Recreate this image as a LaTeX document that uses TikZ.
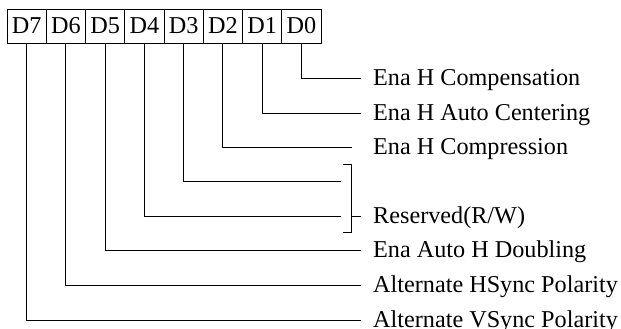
\documentclass[tikz,border=0pt]{standalone}
\usepackage{fontspec}
\setmainfont{Liberation Serif}
\usetikzlibrary{positioning}

\begin{document}
\begin{tikzpicture}[x=1pt, y=-1pt,
    bit/.style={rectangle, draw=black, line width=0.9pt, minimum width=39.25pt, minimum height=34pt, inner sep=0pt, font=\fontsize{24.2}{29}\selectfont},
    lbl/.style={anchor=west, inner sep=0pt, yshift=-1.8pt, font=\fontsize{24.2}{29}\selectfont},
    wire/.style={line width=0.9pt}
]
\useasboundingbox (0,0) rectangle (621,329);

% register bits
\foreach \i [count=\k from 0] in {7,6,5,4,3,2,1,0}
    \node[bit] (b\i) at (26.6+39.25*\k, 26) {D\i};

% wire ends
\coordinate (t0) at (361,78);
\coordinate (t1) at (361,113);
\coordinate (t2) at (352,147);
\coordinate (t3) at (341,181);
\coordinate (t4) at (341,216);
\coordinate (t5) at (361,250);
\coordinate (t6) at (361,285);
\coordinate (t7) at (361,320);

% bracket for reserved bits
\coordinate (rtop) at (351,164);
\coordinate (rmid) at (351,216);
\coordinate (rbot) at (351,232);
\coordinate (rtick) at (361,216);

% labels
\node[lbl] (l0) at (373,78) {Ena H Compensation};
\node[lbl] (l1) at (373,113) {Ena H Auto Centering};
\node[lbl] (l2) at (373,147) {Ena H Compression};
\node[lbl] (lr) at (373,216) {Reserved(R/W)};
\node[lbl] (l5) at (373,250) {Ena Auto H Doubling};
\node[lbl] (l6) at (373,285) {Alternate HSync Polarity};
\node[lbl] (l7) at (373,320) {Alternate VSync Polarity};

\draw[wire] (b0.south) |- (t0);
\draw[wire] (b1.south) |- (t1);
\draw[wire] (b2.south) |- (t2);
\draw[wire] (b3.south) |- (t3);
\draw[wire] (b4.south) |- (t4);
\draw[wire] (b5.south) |- (t5);
\draw[wire] (b6.south) |- (t6);
\draw[wire] (b7.south) |- (t7);

\draw[wire] ([xshift=-8pt]rtop) -- (rtop) -- (rbot) -- ([xshift=-8pt]rbot);
\draw[wire] (rmid) -- (rtick);
\end{tikzpicture}
\end{document}
